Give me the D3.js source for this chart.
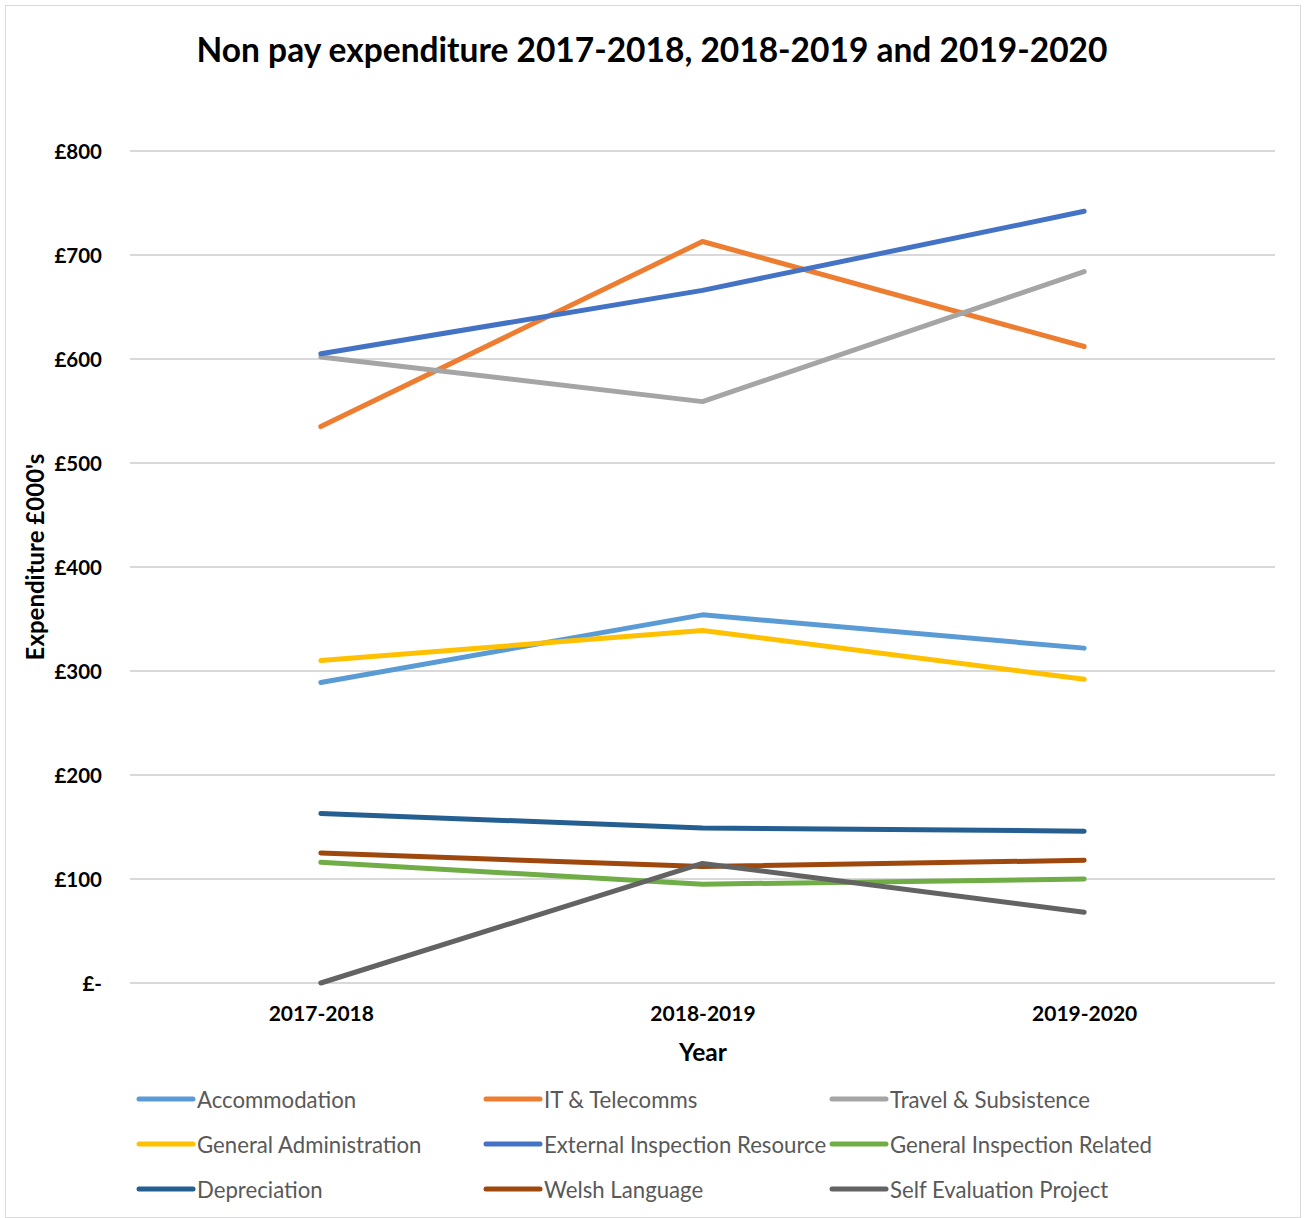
<!DOCTYPE html>
<html>
<head>
<meta charset="utf-8">
<script src="https://cdn.jsdelivr.net/npm/d3@7"></script>
<style>
  body { margin: 0; background: #fff; }
  svg text { font-family: Lato, "Open Sans", sans-serif; }
</style>
</head>
<body>
<div id="chart"></div>
<script>
// data
var years = ['2017-2018', '2018-2019', '2019-2020']
var seriesNames = ['Accommodation', 'IT & Telecomms', 'Travel & Subsistence',
                   'General Administration', 'External Inspection Resource', 'General Inspection Related',
                   'Depreciation', 'Welsh Language', 'Self Evaluation Project']
var seriesColors = ['#5B9BD5', '#ED7D31', '#A5A5A5', '#FFC000', '#4472C4', '#70AD47', '#255E91', '#9E480E', '#636363']
var accommodation = [289, 354, 322]
var itTelecomms = [535, 713, 612]
var travel = [602, 559, 684]
var generalAdmin = [310, 339, 292]
var externalInspection = [605, 666, 742]
var generalInspection = [116, 95, 100]
var depreciation = [163, 149, 146]
var welshLanguage = [125, 112, 118]
var selfEvaluation = [0, 115, 68]
var yTicks = [0, 100, 200, 300, 400, 500, 600, 700, 800]

var allValues = [accommodation, itTelecomms, travel, generalAdmin, externalInspection,
                 generalInspection, depreciation, welshLanguage, selfEvaluation]

var W = 1306, H = 1218
var svg = d3.select('#chart').append('svg').attr('width', W).attr('height', H)

svg.append('rect').attr('x', 5.5).attr('y', 5.5).attr('width', W - 11).attr('height', H - 6)
   .attr('fill', '#fff').attr('stroke', '#d9d9d9').attr('stroke-width', 1)

svg.append('text').attr('x', 652).attr('y', 62).attr('text-anchor', 'middle')
   .attr('font-size', 33.5).attr('font-weight', 'bold').attr('fill', '#000')
   .text('Non pay expenditure 2017-2018, 2018-2019 and 2019-2020')

var plotLeft = 130, plotRight = 1275
var x = d3.scalePoint().domain(years).range([plotLeft, plotRight]).padding(0.5)
var y = d3.scaleLinear().domain([0, 800]).range([983, 151])

// gridlines
svg.append('g').selectAll('line').data(yTicks).enter().append('line')
   .attr('x1', plotLeft).attr('x2', plotRight)
   .attr('y1', function(d) { return y(d) }).attr('y2', function(d) { return y(d) })
   .attr('stroke', '#d9d9d9').attr('stroke-width', 2)

// y axis
var yAxis = svg.append('g').attr('transform', 'translate(' + (plotLeft - 28) + ',0)')
   .call(d3.axisLeft(y).tickValues(yTicks).tickSize(0).tickPadding(0)
   .tickFormat(function(d) { return d === 0 ? '£-' : '£' + d }))
yAxis.select('.domain').remove()
yAxis.selectAll('text').attr('font-size', 20.5).attr('font-weight', 'bold').attr('fill', '#000')
   .attr('font-family', 'Lato, sans-serif').attr('dy', '0.35em')

// x axis
var xAxis = svg.append('g').attr('transform', 'translate(0,' + 1006 + ')')
   .call(d3.axisBottom(x).tickSize(0).tickPadding(0))
xAxis.select('.domain').remove()
xAxis.selectAll('text').attr('font-size', 21).attr('font-weight', 'bold').attr('fill', '#000')
   .attr('font-family', 'Lato, sans-serif')

svg.append('text').attr('x', 703).attr('y', 1061).attr('text-anchor', 'middle')
   .attr('font-size', 24.5).attr('font-weight', 'bold').text('Year')
svg.append('text').attr('transform', 'translate(44,557) rotate(-90)').attr('text-anchor', 'middle')
   .attr('font-size', 24).attr('font-weight', 'bold').text("Expenditure £000's")

// lines
var line = d3.line().x(function(d, i) { return x(years[i]) }).y(function(d) { return y(d) })
svg.append('g').selectAll('path').data(allValues).enter().append('path')
   .attr('d', line).attr('fill', 'none')
   .attr('stroke', function(d, i) { return seriesColors[i] })
   .attr('stroke-width', 5).attr('stroke-linecap', 'round').attr('stroke-linejoin', 'round')

// legend
var colX = [139, 486, 832], rowY = [1099, 1144, 1189]
var legend = svg.append('g').selectAll('g').data(seriesNames).enter().append('g')
   .attr('transform', function(d, i) { return 'translate(' + colX[i % 3] + ',' + rowY[Math.floor(i / 3)] + ')' })
legend.append('line').attr('x1', 0).attr('x2', 54).attr('y1', 0).attr('y2', 0)
   .attr('stroke', function(d, i) { return seriesColors[i] }).attr('stroke-width', 5).attr('stroke-linecap', 'round')
legend.append('text').attr('x', 58).attr('y', 1).attr('dy', '0.35em')
   .attr('font-size', 22.2).attr('fill', '#595959').text(function(d) { return d })
</script>
</body>
</html>
